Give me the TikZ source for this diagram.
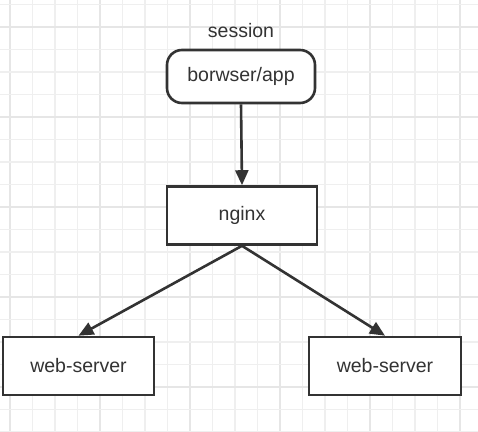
\documentclass[tikz,border=0pt]{standalone}
\usepackage{fontspec}
\setmainfont{Liberation Sans}
\usetikzlibrary{arrows.meta}
\definecolor{ink}{HTML}{333333}
\definecolor{gridminor}{HTML}{EFEFEF}
\definecolor{gridmajor}{HTML}{E6E6E6}
\begin{document}
\begin{tikzpicture}[x=1pt,y=-1pt,
  box/.style={draw=ink,line width=2.6pt,fill=white,minimum width=150pt,minimum height=58pt,inner sep=0pt,font=\fontsize{19.5}{22}\selectfont,text=ink},
  pill/.style={box,rounded corners=15pt,minimum height=53pt,minimum width=148pt},
  link/.style={draw=ink,line width=2.6pt,-{Triangle[length=15pt,width=13pt]}}]
\useasboundingbox (0,0) rectangle (478,431);
\fill[white] (0,0) rectangle (478,431);
% grid
\foreach \k in {0,...,20}{
  \pgfmathsetmacro\gx{10+22.5*\k}
  \pgfmathtruncatemacro\m{mod(\k,4)}
  \ifnum\m=0 \draw[gridmajor,line width=1.6pt] (\gx,0) -- (\gx,431);
  \else \draw[gridminor,line width=1.2pt] (\gx,0) -- (\gx,431); \fi
}
\foreach \k in {0,...,19}{
  \pgfmathsetmacro\gy{4.5+22.5*\k}
  \pgfmathtruncatemacro\m{mod(\k+3,4)}
  \ifnum\m=0 \draw[gridmajor,line width=1.6pt] (0,\gy) -- (478,\gy);
  \else \draw[gridminor,line width=1.2pt] (0,\gy) -- (478,\gy); \fi
}
\node[pill] (app) at (241,76.5) {borwser/app};
\node[font=\fontsize{19.5}{22}\selectfont,text=ink] (sess) at (241,31) {session};
\node[box] (nginx) at (242,215.5) {nginx};
\node[box,minimum width=151pt] (ws1) at (78.5,366) {web-server};
\node[box,minimum width=152pt] (ws2) at (385,366) {web-server};
\draw[link] (app.south) -- (nginx.north);
\draw[link] (nginx.south) -- (ws1.north);
\draw[link] (nginx.south) -- (ws2.north);
\end{tikzpicture}
\end{document}
